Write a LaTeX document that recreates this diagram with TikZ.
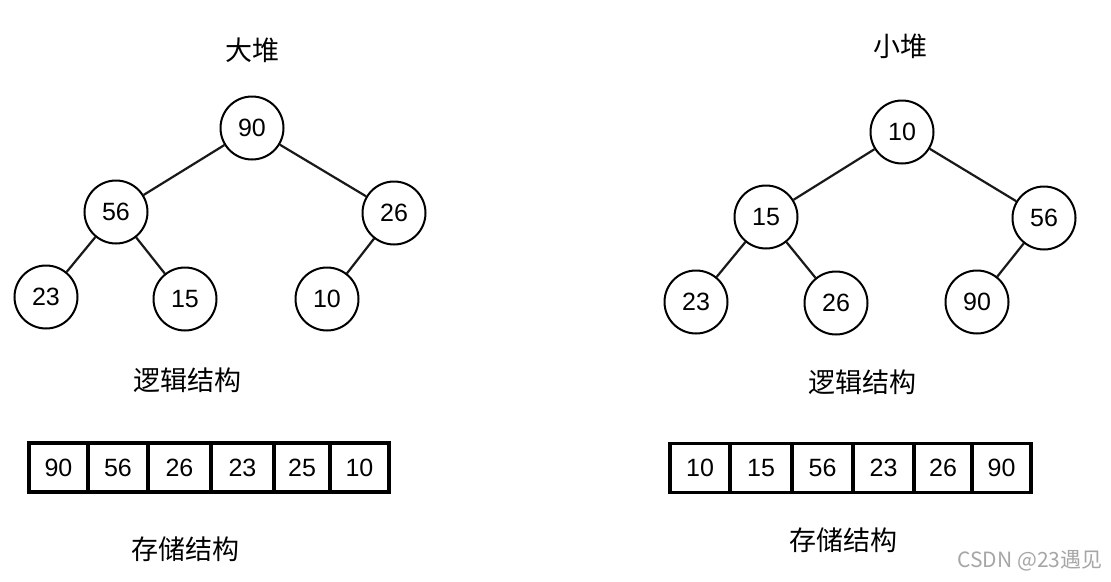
\documentclass[tikz,border=0pt]{standalone}
\usepackage{fontspec}
\setmainfont{Liberation Sans}
\newfontfamily\cjk{Noto Sans CJK SC}
\begin{document}
\begin{tikzpicture}[
		x=1pt, y=-1pt,
		knode/.style={draw, circle, minimum size=63pt, inner sep=0pt,
		line width=2pt, font=\fontsize{25}{29}\selectfont},
		edge/.style={line width=2.2pt, black!90},
		cell/.style={draw, line width=3.6pt, minimum height=49pt,
		inner sep=0pt, font=\fontsize{25}{29}\selectfont},
		ttl/.style={font=\cjk\fontsize{27}{32}\selectfont, inner sep=0pt},
		wmark/.style={font=\cjk\fontsize{21}{25}\selectfont, text=black!35, inner sep=0pt}
	]
	\useasboundingbox (0,0) rectangle (1111,581);
	% 各层 y 坐标
	\def\ya{128}
	\def\yb{213}
	\def\yc{298}

	% 大堆（逻辑结构）
	\node[ttl] (t1) at (252,50) {大堆};
	\node[knode] (m1) at (252,\ya) {90};
	\node[knode] (m2) at (116,\yb-1) {56};
	\node[knode] (m3) at (394,\yb) {26};
	\node[knode] (m4) at (46,\yc-1) {23};
	\node[knode] (m5) at (185,\yc+1) {15};
	\node[knode] (m6) at (327,\yc+1) {10};
	\draw[edge] (m1) -- (m2);
	\draw[edge] (m1) -- (m3);
	\draw[edge] (m2) -- (m4);
	\draw[edge] (m2) -- (m5);
	\draw[edge] (m3) -- (m6);
	\node[ttl] (t2) at (187,380) {逻辑结构};

	% 大堆（存储结构）
	\foreach \cx/\w/\v [count=\i] in {58.5/59/90, 118/60/56, 179.5/63/26,
		242.5/63/23, 302/56/25, 359.5/59/10}
		\node[cell, minimum width=\w pt] (a\i) at (\cx,467.5) {\v};
	\node[ttl] (t3) at (185,549) {存储结构};

	% 小堆（逻辑结构）
	\node[ttl] (t4) at (900,46) {小堆};
	\node[knode] (s1) at (902,\ya+4) {10};
	\node[knode] (s2) at (766,\yb+4) {15};
	\node[knode] (s3) at (1044,\yb+5) {56};
	\node[knode] (s4) at (696,\yc+4) {23};
	\node[knode] (s5) at (836,\yc+5) {26};
	\node[knode] (s6) at (977,\yc+4) {90};
	\draw[edge] (s1) -- (s2);
	\draw[edge] (s1) -- (s3);
	\draw[edge] (s2) -- (s4);
	\draw[edge] (s2) -- (s5);
	\draw[edge] (s3) -- (s6);
	\node[ttl] (t5) at (862,382) {逻辑结构};

	% 小堆（存储结构）
	\foreach \cx/\w/\v [count=\i] in {700/60/10, 761/62/15, 822.5/61/56,
		883.5/61/23, 943/58/26, 1001.5/59/90}
		\node[cell, minimum width=\w pt] (b\i) at (\cx,468) {\v};
	\node[ttl] (t6) at (843,540) {存储结构};

	% 水印
	\node[wmark] (wm) at (1030,561) {CSDN @23遇见};
\end{tikzpicture}
\end{document}
